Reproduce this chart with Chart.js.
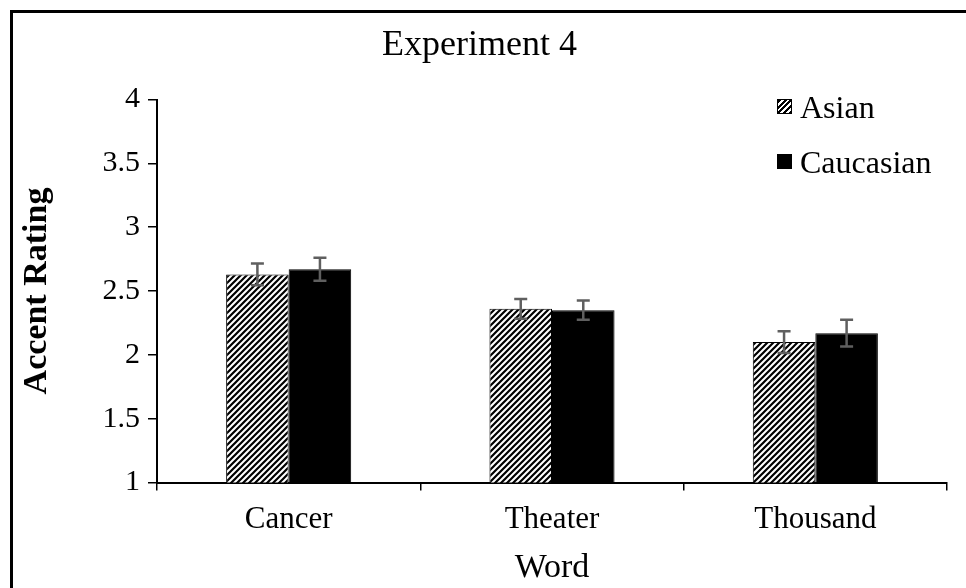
<!DOCTYPE html>
<html>
<head>
<meta charset="utf-8">
<script src="https://cdn.jsdelivr.net/npm/chart.js@4"></script>
<style>
  body { margin: 0; background: #fff; overflow: hidden; }
  #wrap { position: relative; width: 966px; height: 588px; overflow: hidden; }
  #frame { position: absolute; left: 10px; top: 10px; width: 1000px; height: 1000px;
           border: 3px solid #000; box-sizing: border-box; pointer-events: none; }
  .leg { position: absolute; left: 777px; font-family: "Liberation Serif", serif;
         font-size: 32px; line-height: 32px; color: #000; }
  .leg span.box { position: absolute; left: 0; top: 8px; width: 15px; height: 15px;
                  box-sizing: border-box; border: 1px solid #000; }
  .leg span.txt { position: absolute; left: 23px; top: 0; white-space: nowrap; }
  .hatch { background: repeating-linear-gradient(-45deg, #000 0 2px, #fff 2px 4px); }
</style>
</head>
<body>
<div id="wrap">
  <canvas id="chart" width="966" height="588"></canvas>
  <div id="frame"></div>
  <div class="leg" style="top:91px"><span class="box hatch"></span><span class="txt">Asian</span></div>
  <div class="leg" style="top:146px"><span class="box" style="background:#000"></span><span class="txt">Caucasian</span></div>
</div>
<script>
// --- DATA ---
const words = ["Cancer", "Theater", "Thousand"];
const asian = [2.63, 2.36, 2.10];
const caucasian = [2.67, 2.35, 2.17];
const asianErr = [0.085, 0.078, 0.085];
const caucasianErr = [0.09, 0.075, 0.105];
const yTicks = [1, 1.5, 2, 2.5, 3, 3.5, 4];

const FONT = "'Liberation Serif', 'Times New Roman', serif";

// hatch pattern for the Asian bars
function makeHatch() {
    const s = 6;
    const c = document.createElement("canvas");
    c.width = s; c.height = s;
    const g = c.getContext("2d");
    g.fillStyle = "#fff";
    g.fillRect(0, 0, s, s);
    g.strokeStyle = "#000";
    g.lineWidth = 2.2;
    g.beginPath();
    g.moveTo(-1, 1); g.lineTo(1, -1);
    g.moveTo(0, s); g.lineTo(s, 0);
    g.moveTo(s - 1, s + 1); g.lineTo(s + 1, s - 1);
    g.stroke();
    return g.createPattern(c, "repeat");
}

// --- ERROR BARS ---
const errorBars = {
    id: "errorBars",
    afterDatasetsDraw(chart) {
        const ctx = chart.ctx;
        const y = chart.scales.y;
        const errs = [asianErr, caucasianErr];
        ctx.save();
        ctx.strokeStyle = "#5f5f5f";
        ctx.lineWidth = 2.5;
        chart.data.datasets.forEach((ds, di) => {
            chart.getDatasetMeta(di).data.forEach((bar, i) => {
                const v = ds.data[i];
                const top = y.getPixelForValue(v + errs[di][i]);
                const bot = y.getPixelForValue(v - errs[di][i]);
                ctx.beginPath();
                ctx.moveTo(bar.x, top); ctx.lineTo(bar.x, bot);
                ctx.moveTo(bar.x - 6.5, top); ctx.lineTo(bar.x + 6.5, top);
                ctx.moveTo(bar.x - 6.5, bot); ctx.lineTo(bar.x + 6.5, bot);
                ctx.stroke();
            });
        });
        ctx.restore();
    }
};

const PAD = { left: 12, right: 19, top: 20, bottom: 0 };

new Chart(document.getElementById("chart"), {
    type: "bar",
    data: {
        labels: words,
        datasets: [
            { label: "Asian", data: asian, backgroundColor: makeHatch(),
              borderColor: "#000", borderWidth: 1 },
            { label: "Caucasian", data: caucasian, backgroundColor: "#000",
              borderColor: "#000", borderWidth: 1 }
        ]
    },
    options: {
        responsive: false,
        animation: false,
        devicePixelRatio: 1,
        layout: { padding: PAD },
        datasets: { bar: { categoryPercentage: 0.475, barPercentage: 1.0 } },
        plugins: {
            legend: { display: false },
            tooltip: { enabled: false },
            title: {
                display: true,
                text: "Experiment 4",
                color: "#000",
                font: { family: FONT, size: 36, weight: "normal" },
                padding: { top: 4.4, bottom: 31.9 }
            }
        },
        scales: {
            x: {
                grid: { drawOnChartArea: false, drawTicks: true, tickLength: 8,
                        color: "#000", lineWidth: 1.5 },
                border: { display: true, color: "#000", width: 2 },
                ticks: { color: "#000", padding: 11, font: { family: FONT, size: 31 } },
                title: { display: true, text: "Word", color: "#000",
                         font: { family: FONT, size: 34 }, padding: { top: 0, bottom: 0 } },
                afterFit(scale) { scale.height = 588 - PAD.bottom - 482.5; }
            },
            y: {
                min: 1,
                max: 4,
                afterBuildTicks(scale) { scale.ticks = yTicks.map(v => ({ value: v })); },
                grid: { drawOnChartArea: false, drawTicks: true, tickLength: 9,
                        color: "#000", lineWidth: 1.5 },
                border: { display: true, color: "#000", width: 2 },
                ticks: { color: "#000", padding: 8, font: { family: FONT, size: 30 },
                         callback: v => String(v) },
                title: { display: true, text: "Accent Rating", color: "#000",
                         font: { family: FONT, size: 34, weight: "bold" }, padding: { top: 5, bottom: 0 } },
                afterFit(scale) { scale.width = 157 - PAD.left; }
            }
        }
    },
    plugins: [errorBars]
});
</script>
</body>
</html>
